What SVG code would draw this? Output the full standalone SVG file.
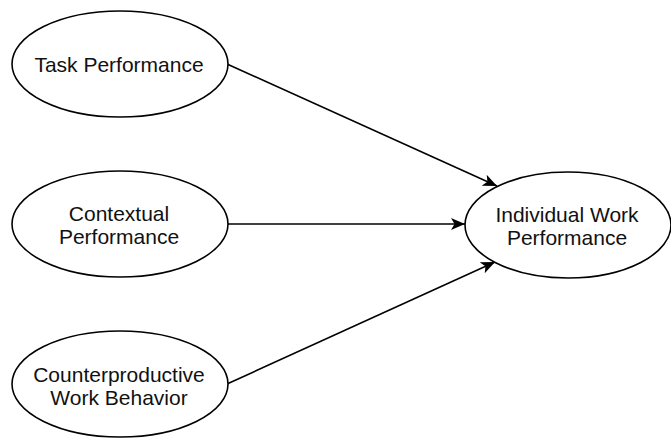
<svg xmlns="http://www.w3.org/2000/svg" width="671" height="438" viewBox="0 0 671 438">
  <style>
    .node { fill: #ffffff; stroke: #000000; stroke-width: 1.6; }
    .label { font-family: "Liberation Sans", Arial, Helvetica, sans-serif; font-size: 21px; fill: #111111; text-anchor: middle; }
    .edge { stroke: #000000; stroke-width: 1.6; fill: none; marker-end: url(#arrow); }
  </style>
  <defs>
    <marker id="arrow" markerUnits="userSpaceOnUse" viewBox="0 0 14 12" refX="14" refY="6" markerWidth="14" markerHeight="12" orient="auto">
      <path d="M0,0 L14,6 L0,12 L3.5,6 z" fill="#000000"/>
    </marker>
  </defs>

  <rect width="671" height="438" fill="#ffffff"/>

  <g id="edges">
    <line class="edge" x1="227" y1="64" x2="497" y2="186"/>
    <line class="edge" x1="228" y1="224" x2="465" y2="224"/>
    <line class="edge" x1="227" y1="384" x2="495" y2="262"/>
  </g>

  <g id="task-performance">
    <ellipse class="node" cx="120" cy="64" rx="108" ry="53"/>
    <text class="label" x="119" y="72">Task Performance</text>
  </g>

  <g id="contextual-performance">
    <ellipse class="node" cx="120" cy="224" rx="108" ry="53"/>
    <text class="label" x="119" y="221">Contextual</text>
    <text class="label" x="119" y="244">Performance</text>
  </g>

  <g id="counterproductive-work-behavior">
    <ellipse class="node" cx="120" cy="384" rx="108" ry="53"/>
    <text class="label" x="119" y="382">Counterproductive</text>
    <text class="label" x="119" y="405">Work Behavior</text>
  </g>

  <g id="individual-work-performance">
    <ellipse class="node" cx="568" cy="225" rx="103" ry="53"/>
    <text class="label" x="567" y="222">Individual Work</text>
    <text class="label" x="567" y="245">Performance</text>
  </g>
</svg>
